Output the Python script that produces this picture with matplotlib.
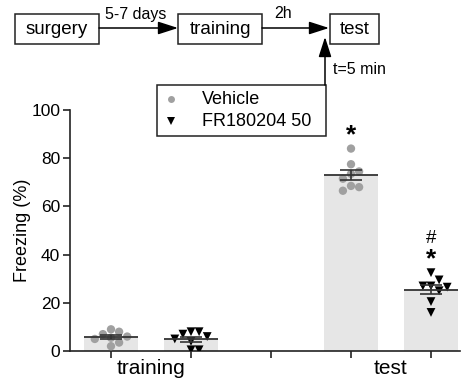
import numpy as np
import matplotlib
matplotlib.use("Agg")
import matplotlib.pyplot as plt
from matplotlib.patches import Rectangle
from matplotlib.lines import Line2D

plt.rcParams['font.family'] = ['Liberation Sans', 'DejaVu Sans']

# ---------------- data ----------------
groups = ["training", "test"]
series = ["Vehicle", "FR180204 50"]
training_vehicle = [9, 8, 7, 6, 5.5, 5, 3.5, 2]
training_fr = [8, 8, 7, 6, 5, 4, 0.5, 0.5]
test_vehicle = [84, 77.5, 74.5, 73.5, 71.5, 68.5, 68, 66.5]
test_fr = [32.5, 29.5, 27, 27, 26.5, 25, 20.5, 16]
yticks = [0, 20, 40, 60, 80, 100]
ylabel = "Freezing (%)"
sig_vehicle_test = "*"
sig_fr_test = ["#", "*"]

# ---------------- figure ----------------
W, H = 467, 383
fig = plt.figure(figsize=(W / 100, H / 100), dpi=100)

ax_left, ax_right, ax_top, ax_bot = 70, 460, 110, 351
ax = fig.add_axes([ax_left / W, 1 - ax_bot / H, (ax_right - ax_left) / W, (ax_bot - ax_top) / H])

positions = [0, 1, 3, 4]
datasets = [training_vehicle, training_fr, test_vehicle, test_fr]
kinds = [0, 1, 0, 1]
bar_w = 0.675
gray = "#a0a0a0"
bar_color = "#e6e6e6"

ax.set_xlim(-0.5125, 4.3625)
ax.set_ylim(0, 100)

# pixel scale for swarm layout
xs_scale = (ax_right - ax_left) / (4.3625 + 0.5125)
ys_scale = (ax_bot - ax_top) / 100.0

def swarm(vals, diam=9.0):
    vals = np.asarray(vals, float)
    order = np.argsort(-vals)
    placed = []
    offs = np.zeros(len(vals))
    for i in order:
        yv = vals[i] * ys_scale
        cands = [0.0]
        for n in range(1, 10):
            cands += [n * diam * 0.9, -n * diam * 0.9]
        for c in cands:
            ok = True
            for (px_, py_) in placed:
                if (px_ - c) ** 2 + (py_ - yv) ** 2 < (diam * 0.85) ** 2:
                    ok = False
                    break
            if ok:
                offs[i] = c
                placed.append((c, yv))
                break
    return offs / xs_scale

for pos, vals, kind in zip(positions, datasets, kinds):
    vals = np.asarray(vals, float)
    m = vals.mean()
    sem = vals.std(ddof=1) / np.sqrt(len(vals))
    ax.bar(pos, m, width=bar_w, color=bar_color, edgecolor="none", zorder=1)
    ax.hlines(m, pos - bar_w / 2, pos + bar_w / 2, color="#333333", lw=1.3, zorder=4)
    ax.errorbar(pos, m, yerr=sem, fmt="none", ecolor="#333333", elinewidth=1.2,
                capsize=8, capthick=1.2, zorder=4)
    offs = swarm(vals)
    if kind == 0:
        ax.scatter(pos + offs, vals, s=36, color=gray, edgecolors="none", zorder=3)
    else:
        ax.scatter(pos + offs, vals, s=40, marker="v", color="black", edgecolors="none", zorder=3)

# significance marks
ax.text(3, max(test_vehicle) + 0.5, sig_vehicle_test, ha="center", va="bottom",
        fontsize=19, fontweight="bold")
ax.text(4, max(test_fr) + 0.5, sig_fr_test[1], ha="center", va="bottom",
        fontsize=19, fontweight="bold")
ax.text(4, max(test_fr) + 10.5, sig_fr_test[0], ha="center", va="bottom", fontsize=13.5)

# axes styling
for s in ["top", "right"]:
    ax.spines[s].set_visible(False)
for s in ["left", "bottom"]:
    ax.spines[s].set_color("#222222")
    ax.spines[s].set_linewidth(1.2)
ax.set_yticks(yticks)
ax.set_yticklabels([str(t) for t in yticks], fontsize=12.5)
ax.set_xticks([0, 1, 2, 3, 4])
ax.set_xticklabels([])
ax.tick_params(axis="both", color="#222222", width=1.2, length=5)
ax.tick_params(axis="y", pad=2)
ax.set_ylabel(ylabel, fontsize=13, labelpad=0.5)
for gx, g in zip([0.5, 3.5], groups):
    ax.text(gx, -3.5, g, ha="center", va="top", fontsize=15,
            transform=ax.transData)

# ---------------- overlay: protocol diagram & legend ----------------
ov = fig.add_axes([0, 0, 1, 1])
ov.set_xlim(0, W)
ov.set_ylim(H, 0)
ov.axis("off")
ov.patch.set_alpha(0)

def box(x0, x1, y0, y1, label):
    ov.add_patch(Rectangle((x0, y0), x1 - x0, y1 - y0, fill=False, lw=1.1, edgecolor="#222222"))
    ov.text((x0 + x1) / 2, (y0 + y1) / 2 + 0.5, label, ha="center", va="center", fontsize=13.5)

box(15, 99, 14, 44, "surgery")
box(178, 262, 14, 44, "training")
box(330, 379, 14, 44, "test")

arrow_style = dict(arrowstyle="-|>,head_length=0.87,head_width=0.28", color="black",
                   lw=1.1, shrinkA=0, shrinkB=0, mutation_scale=14)
ov.annotate("", xy=(178, 28), xytext=(99, 28), arrowprops=arrow_style)
ov.annotate("", xy=(329, 28), xytext=(262, 28), arrowprops=arrow_style)
ov.annotate("", xy=(325, 37), xytext=(325, 85), arrowprops=arrow_style)
ov.text(136, 15, "5-7 days", ha="center", va="center", fontsize=11.5)
ov.text(283, 14, "2h", ha="center", va="center", fontsize=11.5)
ov.text(333, 70, "t=5 min", ha="left", va="center", fontsize=11.5)

# legend
ov.add_patch(Rectangle((157, 85), 326 - 157, 136 - 85, facecolor="white", lw=1.1, edgecolor="#222222"))
ov.add_line(Line2D([171], [99], marker="o", markersize=5, color=gray, markeredgewidth=0))
ov.add_line(Line2D([171], [121], marker="v", markersize=6, color="black", markeredgewidth=0))
ov.text(202, 99, series[0], ha="left", va="center", fontsize=13)
ov.text(202, 121, series[1], ha="left", va="center", fontsize=13)

fig.savefig("out.png", dpi=100)
